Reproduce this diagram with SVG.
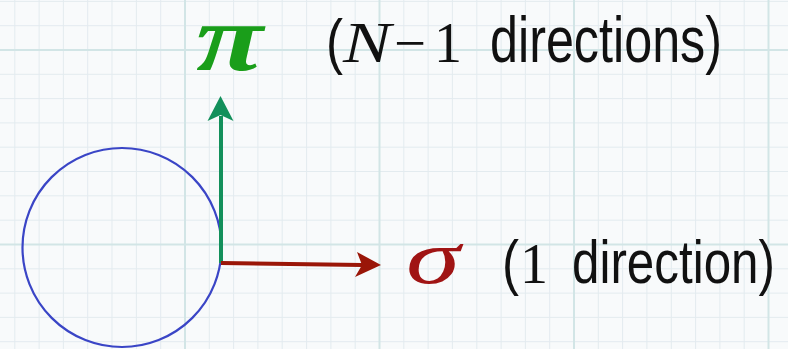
<svg xmlns="http://www.w3.org/2000/svg" width="788" height="349" viewBox="0 0 788 349">
<style>
.minor{stroke:#e3ebef;stroke-width:1;fill:none}
.major{stroke:#d2e5e6;stroke-width:2;fill:none}
.sans{font-family:"Liberation Sans Narrow","Liberation Sans",Arial,sans-serif;fill:#111}
.paren{font-family:"Liberation Sans",Arial,sans-serif;fill:#111}
.serif{font-family:"Liberation Serif","Times New Roman",serif;fill:#111}
.math{font-family:"Liberation Serif","DejaVu Serif",serif;font-style:italic}
</style>
<rect width="788" height="349" fill="#f8fafb"/>
<g id="grid">
<path class="minor" d="M14.8,0V349M39.1,0V349M63.4,0V349M87.7,0V349M112,0V349M136.4,0V349M160.7,0V349M209.3,0V349M233.6,0V349M257.9,0V349M282.2,0V349M306.6,0V349M330.9,0V349M355.2,0V349M403.8,0V349M428.1,0V349M452.4,0V349M476.8,0V349M501.1,0V349M525.4,0V349M549.7,0V349M598.3,0V349M622.6,0V349M646.9,0V349M671.3,0V349M695.6,0V349M719.9,0V349M744.2,0V349
M0,1.4H788M0,25.7H788M0,74.3H788M0,98.6H788M0,122.9H788M0,147.2H788M0,171.5H788M0,195.8H788M0,220.2H788M0,268.8H788M0,293.1H788M0,317.4H788M0,341.7H788"/>
<path class="major" d="M185,0V349M379.5,0V349M574,0V349M768.5,0V349M0,50H788M0,244.5H788"/>
</g>
<g id="circle">
<circle cx="122" cy="247.5" r="99.5" fill="none" stroke="#3a45c6" stroke-width="2.2"/>
</g>
<g id="connectors">
<g id="arrow-pi">
<line x1="221" y1="263" x2="221" y2="116" stroke="#13905b" stroke-width="4"/>
<path d="M220.5,96 L233.5,121 L220.5,115 L207.5,121 Z" fill="#13905b"/>
</g>
<g id="arrow-sigma">
<line x1="221" y1="263" x2="362" y2="265" stroke="#9a1608" stroke-width="4"/>
<path d="M381,265 L355,277 L362,265 L357,252 Z" fill="#9a1608"/>
</g>
</g>
<g id="label-pi">
<text x="196" y="70" class="math" font-weight="bold" font-size="96" fill="#1a9e1a" textLength="67" lengthAdjust="spacingAndGlyphs">π</text>
<text x="326" y="62" class="paren" font-size="62" textLength="17" lengthAdjust="spacingAndGlyphs">(</text>
<text x="343" y="62" class="serif" font-style="italic" font-size="56" textLength="48" lengthAdjust="spacingAndGlyphs">N</text>
<text x="394" y="62" class="serif" font-size="56" textLength="32" lengthAdjust="spacingAndGlyphs">−</text>
<text x="434" y="62" class="serif" font-size="56">1</text>
<text x="490" y="62" class="sans" font-size="64" textLength="232" lengthAdjust="spacingAndGlyphs">directions)</text>
</g>
<g id="label-sigma">
<text x="406" y="283" class="math" font-size="76" fill="#a01414" textLength="54" lengthAdjust="spacingAndGlyphs">σ</text>
<text x="502" y="283" class="paren" font-size="62" textLength="17" lengthAdjust="spacingAndGlyphs">(</text>
<text x="520" y="283" class="serif" font-size="56">1</text>
<text x="572" y="283" class="sans" font-size="62" textLength="203" lengthAdjust="spacingAndGlyphs">direction)</text>
</g>
</svg>
